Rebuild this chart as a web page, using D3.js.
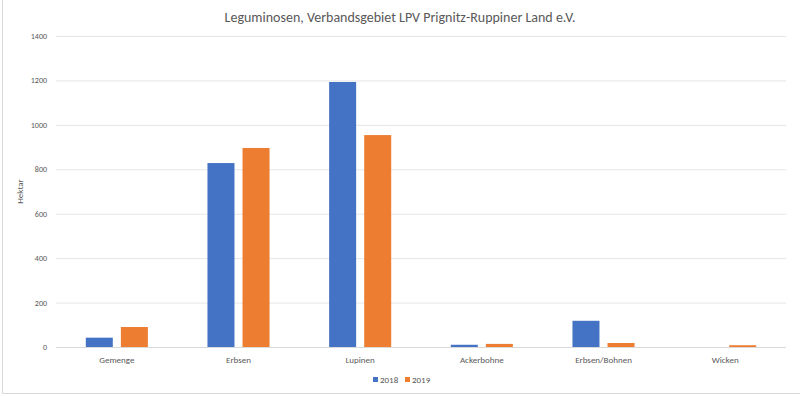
<!DOCTYPE html>
<html>
<head>
<meta charset="utf-8">
<script src="https://cdn.jsdelivr.net/npm/d3@7"></script>
<style>
  body { margin: 0; background: #fff; }
  svg text { font-family: Carlito, "Liberation Sans Narrow", "Open Sans", sans-serif; fill: #595959; }
</style>
</head>
<body>
<div id="chart"></div>
<script>
const categories = ['Gemenge', 'Erbsen', 'Lupinen', 'Ackerbohne', 'Erbsen/Bohnen', 'Wicken']
const years = ['2018', '2019']
const values2018 = [42, 828, 1193, 10, 118, 0]
const values2019 = [90, 896, 954, 14, 18, 8]
const yTicks = [0, 200, 400, 600, 800, 1000, 1200, 1400]
const colors = ['#4472c4', '#ed7d31']

const svgw = 800
const svgh = 396
const plotLeft = 56, plotRight = 786, plotTop = 36, plotBottom = 347

const svg = d3.select('#chart')
    .append('svg')
    .attr('width', svgw)
    .attr('height', svgh)

// chart frame: only left and bottom edges are visible in the crop
svg.append('path')
    .attr('d', `M2.5,0V${svgh - 2.5}H${svgw}`)
    .attr('fill', 'none')
    .attr('stroke', '#d9d9d9')

const xScale = d3.scaleBand()
    .domain(categories)
    .range([plotLeft, plotRight])
const xInner = d3.scaleBand()
    .domain(years)
    .range([0, xScale.bandwidth()])
    .paddingInner(0.23)
    .paddingOuter(0.85)
const yScale = d3.scaleLinear()
    .domain([0, 1400])
    .range([plotBottom, plotTop])

// gridlines
svg.append('g')
    .selectAll('line')
    .data(yTicks)
    .enter()
    .append('line')
    .attr('x1', plotLeft).attr('x2', plotRight)
    .attr('y1', d => yScale(d) + 0.5).attr('y2', d => yScale(d) + 0.5)
    .attr('stroke', d => d === 0 ? '#d9d9d9' : '#e6e6e6')
    .attr('stroke-width', 1)

// y axis labels
const yAxis = d3.axisLeft(yScale).tickValues(yTicks).tickFormat(d3.format('d')).tickSize(0).tickPadding(9)
const yg = svg.append('g')
    .attr('transform', `translate(${plotLeft},0)`)
    .call(yAxis)
yg.select('.domain').remove()
yg.selectAll('text').style('font-size', '8px')

// x axis labels
const xAxis = d3.axisBottom(xScale).tickSize(0).tickPadding(10)
const xg = svg.append('g')
    .attr('transform', `translate(0,${plotBottom})`)
    .call(xAxis)
xg.select('.domain').remove()
xg.selectAll('text').style('font-size', '9px')

// bars
const rows = categories.map((c, i) => ({ cat: c, vals: [values2018[i], values2019[i]] }))
const groups = svg.append('g')
    .selectAll('g')
    .data(rows)
    .enter()
    .append('g')
    .attr('transform', d => `translate(${xScale(d.cat)},0)`)
groups.selectAll('rect')
    .data(d => d.vals.map((v, j) => ({ year: years[j], v: v, j: j })))
    .enter()
    .append('rect')
    .attr('x', d => xInner(d.year))
    .attr('width', xInner.bandwidth())
    .attr('y', d => yScale(d.v))
    .attr('height', d => plotBottom - yScale(d.v))
    .attr('fill', d => colors[d.j])

// title
svg.append('text')
    .attr('x', 400).attr('y', 22)
    .attr('text-anchor', 'middle')
    .style('font-size', '14px')
    .text('Leguminosen, Verbandsgebiet LPV Prignitz-Ruppiner Land e.V.')

// y label
svg.append('text')
    .attr('transform', `translate(23,${(plotTop + plotBottom) / 2}) rotate(-90)`)
    .attr('text-anchor', 'middle')
    .style('font-size', '9px')
    .text('Hektar')

// legend
const legend = svg.append('g').attr('transform', 'translate(373,380)')
years.forEach((y, i) => {
    const g = legend.append('g').attr('transform', `translate(${i * 32},0)`)
    g.append('rect').attr('x', 0).attr('y', -3).attr('width', 5).attr('height', 5).attr('fill', colors[i])
    g.append('text').attr('x', 7).attr('y', 3).style('font-size', '9px').text(y)
})
</script>
</body>
</html>
